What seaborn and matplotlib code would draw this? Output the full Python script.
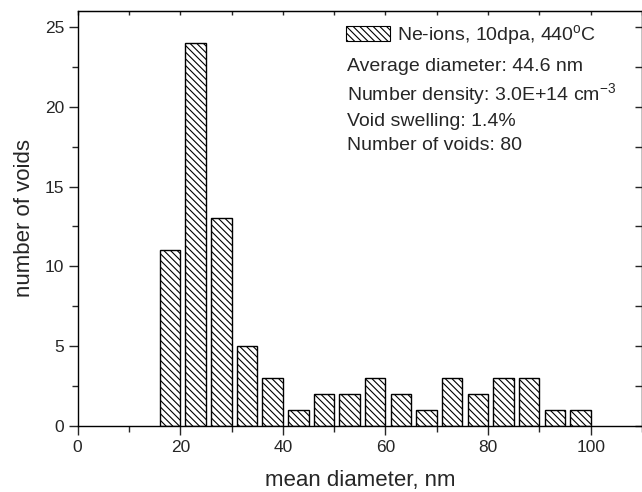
import numpy as np
import pandas as pd
import matplotlib
matplotlib.use('Agg')
import matplotlib.pyplot as plt
from matplotlib.patches import Patch
from matplotlib.ticker import MultipleLocator
import seaborn as sns

sns.set_style('ticks')
plt.rcParams['font.family'] = ['Liberation Sans', 'DejaVu Sans']
plt.rcParams['mathtext.fontset'] = 'custom'
plt.rcParams['mathtext.rm'] = 'Liberation Sans'
plt.rcParams['mathtext.it'] = 'Liberation Sans'
plt.rcParams['hatch.linewidth'] = 0.8

# ── Data ──────────────────────────────────────────────────────────────────────
diameter = [18, 23, 28, 33, 38, 43, 48, 53, 58, 63, 68, 73, 78, 83, 88, 93, 98]
n_voids  = [11, 24, 13, 5, 3, 1, 2, 2, 3, 2, 1, 3, 2, 3, 3, 1, 1]

legend_label = 'Ne-ions, 10dpa, 440$^{\\mathrm{o}}$C'
info_lines = [
    'Average diameter: 44.6 nm',
    'Number density: 3.0E+14 cm$^{-3}$',
    'Void swelling: 1.4%',
    'Number of voids: 80',
]
info_y = [0.856, 0.786, 0.722, 0.665]   # baselines, axes fraction

HATCH = '\\\\\\\\\\'
TICK_FS  = 12.5
LABEL_FS = 16
INFO_FS  = 14

df = pd.DataFrame({'diameter': diameter, 'count': n_voids})

fig = plt.figure(figsize=(6.42, 4.92), dpi=100)
ax = fig.add_axes([0.121, 0.134, 0.879, 0.844])

sns.barplot(data=df, x='diameter', y='count', native_scale=True, width=0.8,
            color='white', edgecolor='black', linewidth=1.0, saturation=1,
            errorbar=None, ax=ax)
for p in ax.patches:
    p.set_hatch(HATCH)

ax.set_xlim(0, 110)
ax.set_ylim(0, 26)
ax.xaxis.set_major_locator(MultipleLocator(20))
ax.xaxis.set_minor_locator(MultipleLocator(10))
ax.yaxis.set_major_locator(MultipleLocator(5))
ax.yaxis.set_minor_locator(MultipleLocator(2.5))
ax.tick_params(which='major', direction='out', length=6.7, width=1.0,
               labelsize=TICK_FS, pad=3)
ax.tick_params(which='minor', direction='out', length=4.3, width=1.0)

for s in ax.spines.values():
    s.set_visible(True)
    s.set_linewidth(1.0)
    s.set_color('black')

# mirrored inward ticks on top and right
top = ax.secondary_xaxis('top')
top.xaxis.set_major_locator(MultipleLocator(10))
top.tick_params(direction='in', length=3.2, width=1.0, labeltop=False)
right = ax.secondary_yaxis('right')
right.yaxis.set_major_locator(MultipleLocator(2.5))
right.tick_params(direction='in', length=4.8, width=1.0, labelright=False)

ax.set_xlabel('mean diameter, nm', fontsize=LABEL_FS, labelpad=11)
ax.set_ylabel('number of voids', fontsize=LABEL_FS, labelpad=7)

handle = Patch(facecolor='white', edgecolor='black', hatch=HATCH, linewidth=0.8)
ax.legend([handle], [legend_label], loc='center left',
          bbox_to_anchor=(0.4755, 0.9415), frameon=False, fontsize=INFO_FS,
          handlelength=2.27, handleheight=0.82, handletextpad=0.36,
          borderpad=0.0, borderaxespad=0.0)

for line, yy in zip(info_lines, info_y):
    ax.text(0.4775, yy, line, transform=ax.transAxes,
            fontsize=INFO_FS, va='baseline', ha='left')

plt.savefig('out.png', dpi=100)
plt.close()
